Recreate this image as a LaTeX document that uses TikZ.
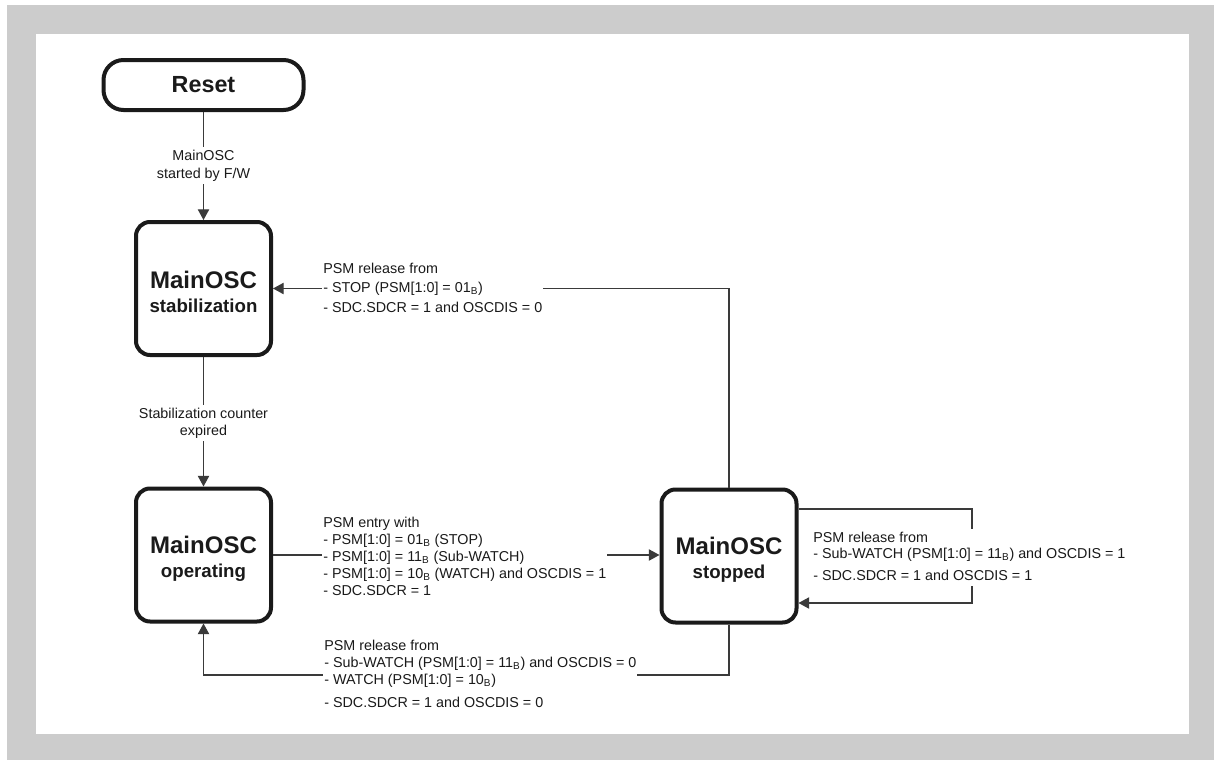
\documentclass[tikz,border=0pt]{standalone}
\usepackage{fontspec}
\setmainfont{Liberation Sans}
\usetikzlibrary{arrows.meta}
\definecolor{framegray}{HTML}{CCCCCC}
\definecolor{linegray}{HTML}{3A3A3A}
\definecolor{boxblack}{HTML}{1A1A1A}
\newcommand\subB{\textsubscript{B}}
\newcommand\boxtxt[1]{\rule{0pt}{18pt}MainOSC\\[-2pt]{\fontsize{14}{16}\selectfont #1}}
\begin{document}
\begin{tikzpicture}[x=0.75pt,y=-0.75pt,
  oscbox/.style={draw=boxblack, line width=3pt, rounded corners=10.5pt,
    minimum width=101.25pt, minimum height=99.75pt, inner sep=0pt,
    align=center, font=\fontsize{18}{20}\selectfont\bfseries, text=boxblack},
  resetbox/.style={draw=boxblack, line width=3pt, rounded corners=15pt,
    minimum width=150pt, minimum height=37.5pt, inner sep=0pt,
    font=\fontsize{17.5}{20}\selectfont\bfseries, text=boxblack},
  conn/.style={draw=linegray, line width=0.9pt,
    -{Triangle[length=8pt,width=8.5pt]}},
  lbl/.style={fill=white, inner sep=0.75pt, anchor=base west,
    font=\fontsize{10.75}{12.75}\selectfont, text=boxblack},
  clbl/.style={lbl, anchor=base}
]
\path[fill=framegray] (7,5) rectangle (1214,760);
\path[fill=white] (36,34) rectangle (1189,734);
\useasboundingbox (0,0) rectangle (1214,760);

% states
\node[resetbox] (reset) at (203.5,85) {Reset};
\node[oscbox] (stab) at (203.5,288.5) {\boxtxt{stabilization}};
\node[oscbox] (oper) at (203.5,555) {\boxtxt{operating}};
\node[oscbox] (stop) at (729,556) {\boxtxt{stopped}};

% helper coordinates
\coordinate (bl) at (729,675);
\coordinate (sl1) at (972,509);
\coordinate (sl2) at (972,603);

% connectors
\draw[conn] (reset.south) -- (stab.north);
\draw[conn] (stab.south) -- (oper.north);
\draw[conn] (stop.north) |- (stab.east);
\draw[conn] (oper.east) -- (oper.east -| stop.west);
\draw[conn] (stop.south) -- (bl) -| (oper.south);
\draw[conn] (stop.east |- sl1) -- (sl1) -- (sl2) -- (stop.east |- sl2);

% labels
\node[clbl] (lstart) at (203.5,160) {\begin{tabular}[t]{@{}c@{}}MainOSC\\[0.75pt]started by F/W\end{tabular}};
\node[clbl] (lexp) at (203.5,418) {\begin{tabular}[t]{@{}c@{}}Stabilization counter\\expired\end{tabular}};
\node[lbl] (lstop) at (322,273) {\begin{tabular}[t]{@{}l@{}}PSM release from\\[1.5pt]
- STOP (PSM[1:0] = 01\subB)\\[2.25pt]
- SDC.SDCR = 1 and OSCDIS = 0\end{tabular}};
\node[lbl] (lentry) at (322,527) {\begin{tabular}[t]{@{}l@{}}PSM entry with\\
- PSM[1:0] = 01\subB{} (STOP)\\
- PSM[1:0] = 11\subB{} (Sub-WATCH)\\
- PSM[1:0] = 10\subB{} (WATCH) and OSCDIS = 1\\
- SDC.SDCR = 1\end{tabular}};
\node[lbl] (lrel) at (323,650) {\begin{tabular}[t]{@{}l@{}}PSM release from\\
- Sub-WATCH (PSM[1:0] = 11\subB) and OSCDIS = 0\\
- WATCH (PSM[1:0] = 10\subB)\\[4.5pt]
- SDC.SDCR = 1 and OSCDIS = 0\end{tabular}};
\node[lbl] (lself) at (812,542) {\begin{tabular}[t]{@{}l@{}}PSM release from\\[-0.75pt]
- Sub-WATCH (PSM[1:0] = 11\subB) and OSCDIS = 1\\[3.75pt]
- SDC.SDCR = 1 and OSCDIS = 1\end{tabular}};
\end{tikzpicture}
\end{document}
